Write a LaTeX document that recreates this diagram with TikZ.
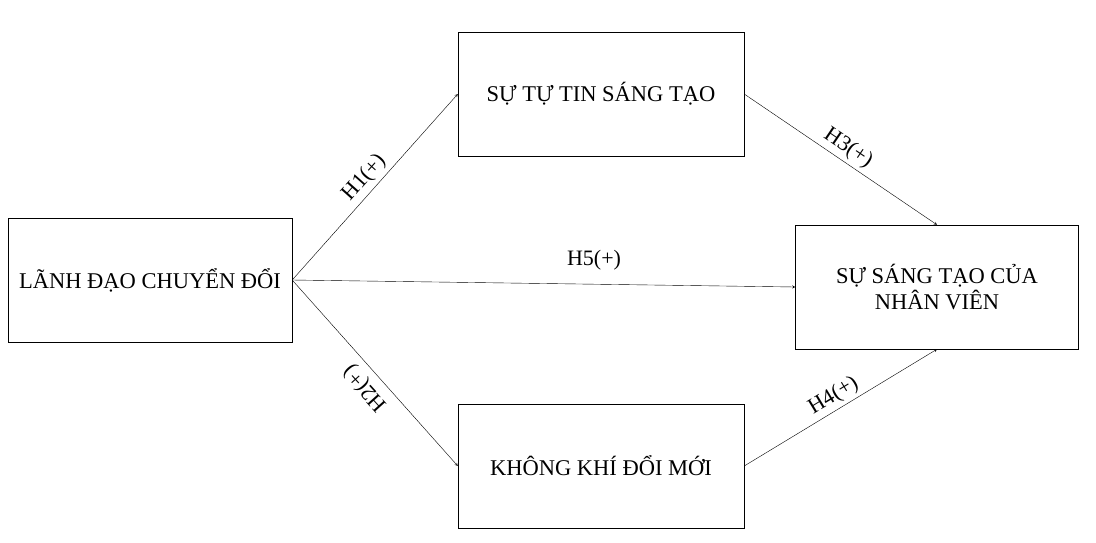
\documentclass[tikz,border=0pt]{standalone}
\usepackage{fontspec}
\setmainfont{Liberation Serif}
\usetikzlibrary{positioning}
\tikzset{
  box/.style={draw, minimum width=286pt, minimum height=124pt, align=center, font=\fontsize{22.5}{26}\selectfont},
  lbl/.style={font=\fontsize{22}{26}\selectfont},
  link/.style={->, >=stealth}
}
\begin{document}
\begin{tikzpicture}[x=1pt,y=-1pt]
    \useasboundingbox (0,0) rectangle (1096,542);
    \node[box, minimum width=284pt] (lead) at (150,280) {LÃNH ĐẠO CHUYỂN ĐỔI};
    \node[box] (conf) at (601,94) {SỰ TỰ TIN SÁNG TẠO};
    \node[box, minimum width=283pt] (crea) at (937,287) {SỰ SÁNG TẠO CỦA\\NHÂN VIÊN};
    \node[box] (clim) at (601,466) {KHÔNG KHÍ ĐỔI MỚI};
    % connectors
    \draw[link] (lead.east) -- node[lbl, midway, above, sloped] {H1(+)} (conf.west);
    \draw[link] (lead.east) -- (clim.west);
    \node[lbl, rotate=132] (h2) at (366,388) {H2(+)};
    \draw[link] (lead.east) -- node[lbl, pos=0.6, above=10pt] {H5(+)} (crea.west);
    \draw[link] (conf.east) -- node[lbl, midway, above, sloped] {H3(+)} (crea.north);
    \draw[link] (clim.east) -- node[lbl, midway, above, sloped] {H4(+)} (crea.south);
\end{tikzpicture}
\end{document}
